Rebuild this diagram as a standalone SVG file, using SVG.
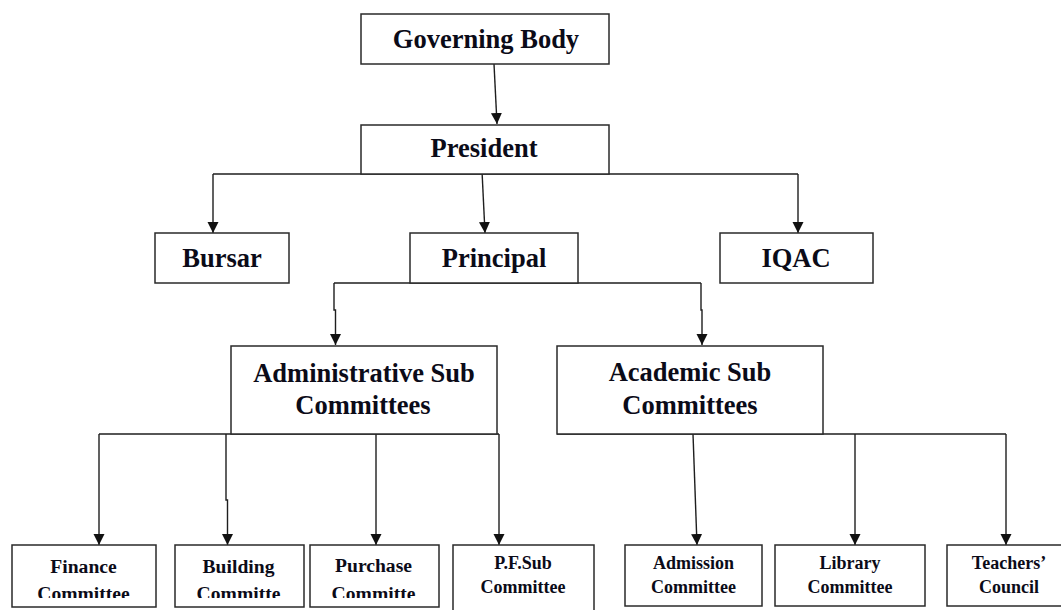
<svg xmlns="http://www.w3.org/2000/svg" width="1061" height="610" viewBox="0 0 1061 610">
<defs>
<style>
.box{fill:#fff;stroke:#2a2a2a;stroke-width:1.5}
.ln{fill:none;stroke:#1e1e1e;stroke-width:1.4}
.t1{font-family:"Liberation Serif","Times New Roman",serif;font-weight:bold;font-size:26.5px;fill:#0b0b18;text-anchor:middle}
.t2{font-family:"Liberation Serif","Times New Roman",serif;font-weight:bold;font-size:19.6px;fill:#0b0b18;text-anchor:middle}
.t3{font-family:"Liberation Serif","Times New Roman",serif;font-weight:bold;font-size:18px;fill:#0b0b18;text-anchor:middle}
</style>
<marker id="ah" markerUnits="userSpaceOnUse" markerWidth="12" markerHeight="12" viewBox="0 0 12 12" refX="11" refY="6" orient="auto">
<path d="M0,0.5 L11,6 L0,11.5 Z" fill="#111"/>
</marker>
<clipPath id="clipA"><rect x="0" y="540" width="600" height="58"/></clipPath>
</defs>
<rect width="1061" height="610" fill="#fff"/>

<g id="connectors">
<path class="ln" d="M494,64 L497,124" marker-end="url(#ah)"/>
<path class="ln" d="M213,174 H798"/>
<path class="ln" d="M213,174 V233" marker-end="url(#ah)"/>
<path class="ln" d="M798,174 V233" marker-end="url(#ah)"/>
<path class="ln" d="M482,171 L485,233" marker-end="url(#ah)"/>
<path class="ln" d="M334,283 H701"/>
<path class="ln" d="M334,283 V310 H335.5 V345" marker-end="url(#ah)"/>
<path class="ln" d="M701,283 V310 H702 V345" marker-end="url(#ah)"/>
<path class="ln" d="M99,434 H499"/>
<path class="ln" d="M99,434 V545" marker-end="url(#ah)"/>
<path class="ln" d="M226,434 V500 H227.5 V545" marker-end="url(#ah)"/>
<path class="ln" d="M376,428 V545" marker-end="url(#ah)"/>
<path class="ln" d="M499,434 V545" marker-end="url(#ah)"/>
<path class="ln" d="M557,434 H1006"/>
<path class="ln" d="M693,434 L697,545" marker-end="url(#ah)"/>
<path class="ln" d="M855,434 V545" marker-end="url(#ah)"/>
<path class="ln" d="M1006,434 V545" marker-end="url(#ah)"/>
</g>

<g id="governing-body">
<rect class="box" x="361" y="14" width="248" height="50"/>
<text class="t1" x="486" y="48">Governing Body</text>
</g>
<g id="president">
<rect class="box" x="361" y="125" width="248" height="49"/>
<text class="t1" x="484" y="157">President</text>
</g>
<g id="bursar">
<rect class="box" x="155" y="233" width="134" height="50"/>
<text class="t1" x="222" y="267">Bursar</text>
</g>
<g id="principal">
<rect class="box" x="410" y="233" width="168" height="50"/>
<text class="t1" x="494" y="267">Principal</text>
</g>
<g id="iqac">
<rect class="box" x="720" y="233" width="153" height="50"/>
<text class="t1" x="796" y="267">IQAC</text>
</g>
<g id="administrative-sub-committees">
<rect class="box" x="231" y="346" width="266" height="88"/>
<text class="t1" x="364" y="382">Administrative Sub</text>
<text class="t1" x="363" y="414">Committees</text>
</g>
<g id="academic-sub-committees">
<rect class="box" x="557" y="346" width="266" height="88"/>
<text class="t1" x="690" y="381">Academic Sub</text>
<text class="t1" x="690" y="414">Committees</text>
</g>

<g id="finance-committee">
<rect class="box" x="12" y="545" width="144" height="62"/>
<g clip-path="url(#clipA)">
<text class="t2" x="83.5" y="573">Finance</text>
<text class="t2" x="83.5" y="600">Committee</text>
</g>
</g>
<g id="building-committe">
<rect class="box" x="175" y="545" width="129" height="62"/>
<g clip-path="url(#clipA)">
<text class="t2" x="238.5" y="573">Building</text>
<text class="t2" x="238.5" y="600">Committe</text>
</g>
</g>
<g id="purchase-committe">
<rect class="box" x="310" y="545" width="129" height="62"/>
<g clip-path="url(#clipA)">
<text class="t2" x="373.5" y="572">Purchase</text>
<text class="t2" x="373.5" y="600">Committe</text>
</g>
</g>
<g id="pf-sub-committee">
<rect class="box" x="453" y="545" width="141" height="75"/>
<text class="t3" x="523" y="569">P.F.Sub</text>
<text class="t3" x="523" y="593">Committee</text>
</g>
<g id="admission-committee">
<rect class="box" x="625" y="545" width="137" height="61"/>
<text class="t3" x="693.5" y="569">Admission</text>
<text class="t3" x="693.5" y="593">Committee</text>
</g>
<g id="library-committee">
<rect class="box" x="775" y="545" width="150" height="61"/>
<text class="t3" x="850" y="569">Library</text>
<text class="t3" x="850" y="593">Committee</text>
</g>
<g id="teachers-council">
<rect class="box" x="947" y="545" width="124" height="61"/>
<text class="t3" x="1009" y="569">Teachers’</text>
<text class="t3" x="1009" y="593">Council</text>
</g>
</svg>
